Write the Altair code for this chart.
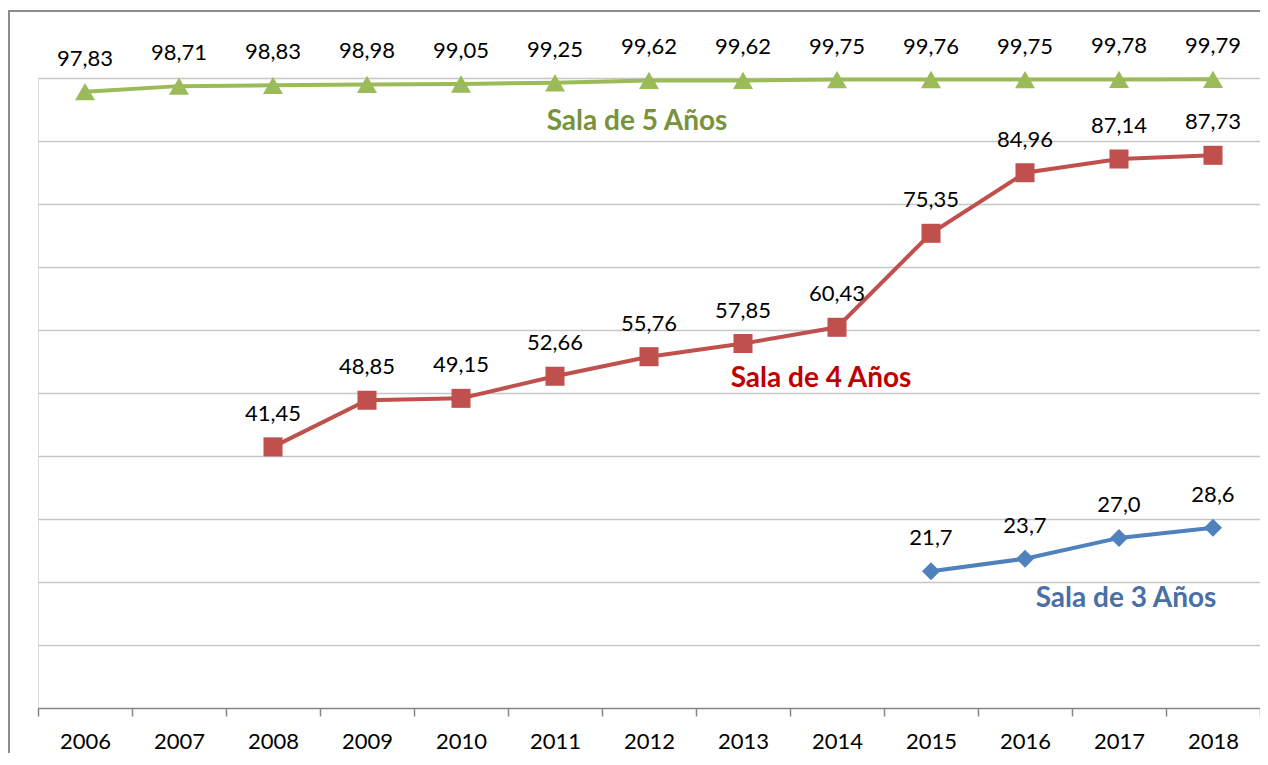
import altair as alt
import pandas as pd

years = [str(y) for y in range(2006, 2019)]
sala5 = [97.83, 98.71, 98.83, 98.98, 99.05, 99.25, 99.62, 99.62, 99.75, 99.76, 99.75, 99.78, 99.79]
years4 = years[2:]
sala4 = [41.45, 48.85, 49.15, 52.66, 55.76, 57.85, 60.43, 75.35, 84.96, 87.14, 87.73]
years3 = years[9:]
sala3 = [21.7, 23.7, 27.0, 28.6]

series_names = ["Sala de 5 Años", "Sala de 4 Años", "Sala de 3 Años"]
line_colors = ["#9BBB59", "#C0504D", "#4F81BD"]
text_colors = ["#77933C", "#C00000", "#4A6FA5"]
shapes = ["triangle-up", "square", "diamond"]
sizes = [400, 324, 400]
decimals = [2, 2, 1]

name_years = ["2012", "2014", "2017"]
name_values = [93.0, 52.2, 17.3]
name_dx = [-12, -16, 7]

rows = []
for name, yrs, vals, d in zip(series_names, [years, years4, years3], [sala5, sala4, sala3], decimals):
    for yr, v in zip(yrs, vals):
        rows.append({"year": yr, "value": v, "serie": name,
                     "label": f"{v:.{d}f}".replace(".", ",")})
df = pd.DataFrame(rows)

FONT = "Lato"
W, H = 1222, 630

x = alt.X("year:N",
          scale=alt.Scale(type="band", domain=years, paddingInner=0, paddingOuter=0),
          axis=alt.Axis(title=None, labelAngle=0, tickBand="extent", tickSize=8,
                        tickColor="#868686", tickWidth=1.5, domainColor="#868686",
                        domainWidth=1.5, labelFontSize=22, labelColor="#000000",
                        labelPadding=15, grid=False, labelFont=FONT))
y = alt.Y("value:Q",
          scale=alt.Scale(domain=[0, 100], nice=False, zero=True),
          axis=alt.Axis(title=None, labels=False, ticks=False, domain=False,
                        values=list(range(10, 101, 10)), grid=True,
                        gridColor="#C6C6C6", gridWidth=1.5))

color = alt.Color("serie:N", scale=alt.Scale(domain=series_names, range=line_colors), legend=None)

base = alt.Chart(df)
lines = base.mark_line(strokeWidth=4).encode(x=x, y=y, color=color, detail="serie:N")
points = base.mark_point(filled=True, opacity=1).encode(
    x=x, y=y, color=color,
    shape=alt.Shape("serie:N", scale=alt.Scale(domain=series_names, range=shapes), legend=None),
    size=alt.Size("serie:N", scale=alt.Scale(domain=series_names, range=sizes), legend=None),
)
labels = base.mark_text(fontSize=22, dy=-33, color="#000000", baseline="middle", font=FONT).encode(
    x=x, y=y, text="label:N")

name_layers = []
for name, yr, v, dx, tc in zip(series_names, name_years, name_values, name_dx, text_colors):
    ndf = pd.DataFrame({"year": [yr], "value": [v], "serie": [name]})
    name_layers.append(
        alt.Chart(ndf).mark_text(fontSize=28, fontWeight="bold", color=tc, dx=dx,
                                 baseline="middle", font=FONT).encode(x=x, y=y, text="serie:N"))

frame = alt.Chart(pd.DataFrame({"f": [0]})).mark_rect(
    fillOpacity=0, stroke="#8C8C8C", strokeWidth=2).encode(
    x=alt.value(-29), x2=alt.value(W + 40), y=alt.value(-67), y2=alt.value(H + 80))

chart = alt.layer(frame, lines, points, labels, *name_layers).properties(
    width=W, height=H,
    padding={"left": 30, "top": 70, "right": 0, "bottom": 45},
    autosize=alt.AutoSizeParams(type="none"),
).configure_view(strokeWidth=0).configure(font=FONT)

chart.save("out.html", embed_options={"renderer": "svg", "actions": False})
